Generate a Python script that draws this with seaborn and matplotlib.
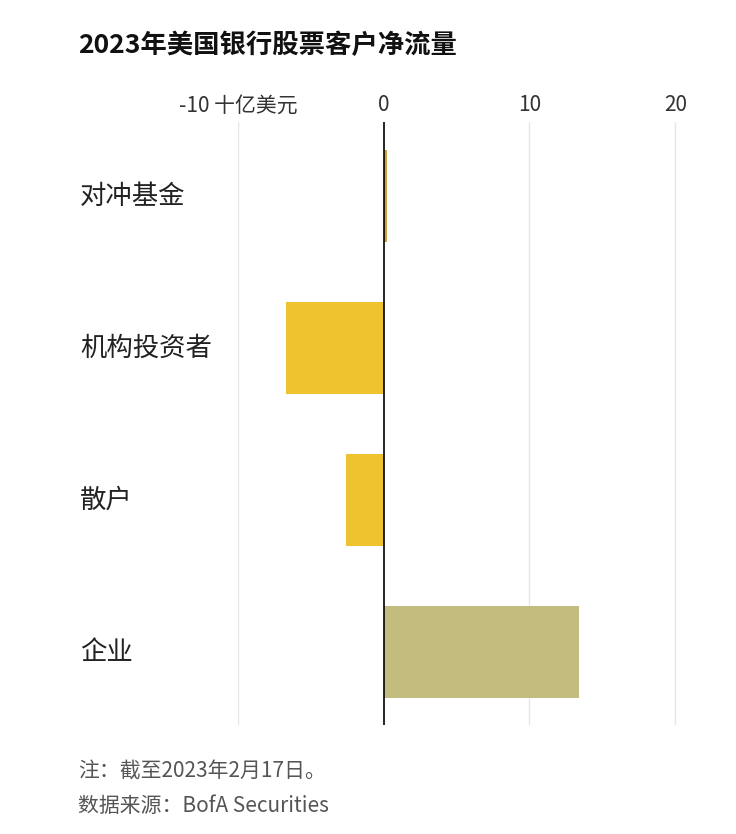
import matplotlib
matplotlib.use("Agg")
import matplotlib.pyplot as plt
import seaborn as sns
import pandas as pd

plt.rcParams['font.family'] = ['Noto Sans CJK SC', 'DejaVu Sans']

# Data (十亿美元)
categories = ['对冲基金', '机构投资者', '散户', '企业']
net_flows = [0.25, -6.7, -2.6, 13.4]
bar_colors = ['#c9a43c', '#efc22f', '#efc22f', '#c3bc7e']
tick_values = [-10, 0, 10, 20]
tick_labels = ['-10 十亿美元', '0', '10', '20']

df = pd.DataFrame({'category': categories, 'flow': net_flows})

fig = plt.figure(figsize=(7.36, 8.34), dpi=100)
ax = fig.add_axes([238 / 736, 109 / 834, 462 / 736, 603 / 834])

sns.barplot(data=df, x='flow', y='category', hue='category', palette=bar_colors,
            orient='h', width=0.6, legend=False, ax=ax, saturation=1)

# top of axes at y=122 px, first bar centred at 196 px, 152 px per category
ax.set_xlim(-10, 21.7)
ax.set_ylim(3.48, -0.487)
for v in [-10, 10, 20]:
    ax.axvline(v, color='#e6e6e6', lw=1, zorder=0)
ax.axvline(0, color='black', lw=1.2, zorder=3)

ax.xaxis.tick_top()
ax.set_xticks(tick_values)
ax.set_xticklabels(tick_labels, fontsize=15, color='#333333')
ax.tick_params(axis='x', length=0, pad=4)
ax.set_yticks([])
ax.set_xlabel('')
ax.set_ylabel('')
for s in ax.spines.values():
    s.set_visible(False)

# category labels on the far left
trans = matplotlib.transforms.blended_transform_factory(fig.transFigure, ax.transData)
for i, c in enumerate(categories):
    ax.text(80 / 736, i, c, transform=trans, ha='left', va='center', fontsize=19, color='#222222')

fig.text(78 / 736, 1 - 45 / 834, '2023年美国银行股票客户净流量', fontsize=19, fontweight='bold',
         ha='left', va='center', color='#111111')
fig.text(78 / 736, 1 - 772 / 834, '注：截至2023年2月17日。', fontsize=15, ha='left', va='center', color='#555555')
fig.text(78 / 736, 1 - 806 / 834, '数据来源：BofA Securities', fontsize=15, ha='left', va='center', color='#555555')

fig.savefig('out.png', dpi=100)
